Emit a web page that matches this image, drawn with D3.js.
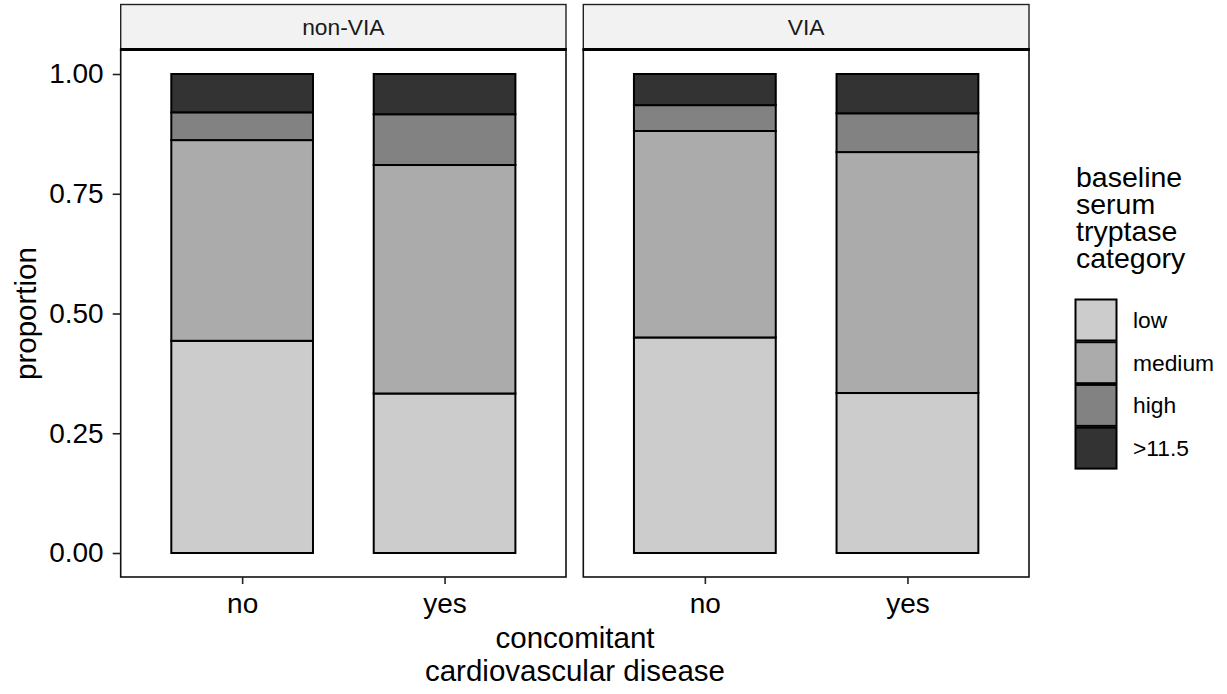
<!DOCTYPE html>
<html>
<head>
<meta charset="utf-8">
<script src="https://cdn.jsdelivr.net/npm/d3@7"></script>
<style>
  html, body { margin: 0; padding: 0; background: #fff; }
  svg { display: block; font-family: "Liberation Sans", Arial, sans-serif; }
</style>
</head>
<body>
<svg id="chart" width="1227" height="694"></svg>
<script>
// Facets, x categories and fill categories
const facets = ["non-VIA", "VIA"];
const cvdGroups = ["no", "yes"];
const tryptaseCats = ["low", "medium", "high", ">11.5"];
const yTicks = [0, 0.25, 0.5, 0.75, 1];

// Proportion of each tryptase category within each group (low, medium, high, >11.5)
const nonViaNo  = [0.443, 0.419, 0.058, 0.080];
const nonViaYes = [0.333, 0.477, 0.106, 0.084];
const viaNo     = [0.450, 0.431, 0.054, 0.065];
const viaYes    = [0.334, 0.503, 0.081, 0.082];

const facetData = {
  "non-VIA": { no: nonViaNo, yes: nonViaYes },
  "VIA":     { no: viaNo,    yes: viaYes }
};

const fillColors = ["#cccccc", "#ababab", "#828282", "#333333"];

const svg = d3.select("#chart");

const panelTop = 50, panelBottom = 577;
const panels = [
  { name: facets[0], x0: 120.7, x1: 566 },
  { name: facets[1], x0: 583.3, x1: 1029 }
];

const y = d3.scaleLinear().domain([0, 1]).range([553, 74]);
const color = d3.scaleOrdinal().domain(tryptaseCats).range(fillColors);

panels.forEach((p, pi) => {
  const x = d3.scalePoint().domain(cvdGroups).range([p.x0, p.x1]).padding(0.6);
  const barW = x.step() * 0.7;
  const g = svg.append("g");

  // strip
  g.append("rect")
    .attr("x", p.x0).attr("y", 4.5)
    .attr("width", p.x1 - p.x0).attr("height", panelTop - 4.5)
    .attr("fill", "#f2f2f2").attr("stroke", "#222").attr("stroke-width", 1.4);
  g.append("text")
    .attr("x", (p.x0 + p.x1) / 2).attr("y", 27)
    .attr("text-anchor", "middle").attr("dominant-baseline", "central")
    .attr("font-size", 22.8).attr("fill", "#1a1a1a")
    .text(p.name);

  // stacked bars
  cvdGroups.forEach(grp => {
    const vals = facetData[p.name][grp];
    let cum = 0;
    vals.forEach((v, i) => {
      const lo = cum, hi = cum + v;
      cum = hi;
      g.append("rect")
        .attr("x", x(grp) - barW / 2)
        .attr("y", y(hi))
        .attr("width", barW)
        .attr("height", y(lo) - y(hi))
        .attr("fill", color(tryptaseCats[i]))
        .attr("stroke", "#000").attr("stroke-width", 2);
    });
  });

  // panel border
  g.append("rect")
    .attr("x", p.x0).attr("y", panelTop)
    .attr("width", p.x1 - p.x0).attr("height", panelBottom - panelTop)
    .attr("fill", "none").attr("stroke", "#111").attr("stroke-width", 1.6);
  // thick line beneath the strip
  g.append("line")
    .attr("x1", p.x0 - 0.8).attr("x2", p.x1 + 0.8)
    .attr("y1", panelTop - 0.5).attr("y2", panelTop - 0.5)
    .attr("stroke", "#000").attr("stroke-width", 2.8);

  // x axis
  const xAxis = d3.axisBottom(x).tickSize(7).tickPadding(6);
  const xg = g.append("g").attr("transform", `translate(0,${panelBottom})`).call(xAxis);
  xg.select(".domain").remove();
  xg.selectAll(".tick line").attr("stroke", "#222").attr("stroke-width", 1.6);
  xg.selectAll(".tick text").attr("font-size", 28).attr("fill", "#000")
    .attr("font-family", "'Liberation Sans', Arial, sans-serif").attr("dy", "0.82em");

  // y axis on first panel only
  if (pi === 0) {
    const yAxis = d3.axisLeft(y).tickValues(yTicks).tickFormat(d3.format(".2f")).tickSize(8).tickPadding(9);
    const yg = g.append("g").attr("transform", `translate(${p.x0},0)`).call(yAxis);
    yg.select(".domain").remove();
    yg.selectAll(".tick line").attr("stroke", "#222").attr("stroke-width", 1.6);
    yg.selectAll(".tick text").attr("font-size", 28).attr("fill", "#000")
      .attr("font-family", "'Liberation Sans', Arial, sans-serif");
  }
});

// axis titles
svg.append("text")
  .attr("x", 575).attr("y", 648)
  .attr("text-anchor", "middle").attr("font-size", 29.5).attr("fill", "#000")
  .text("concomitant");
svg.append("text")
  .attr("x", 575).attr("y", 681)
  .attr("text-anchor", "middle").attr("font-size", 29.5).attr("fill", "#000")
  .text("cardiovascular disease");
svg.append("text")
  .attr("transform", `translate(36,313.5) rotate(-90)`)
  .attr("text-anchor", "middle").attr("font-size", 29.5).attr("fill", "#000")
  .text("proportion");

// legend
const legendTitle = ["baseline", "serum", "tryptase", "category"];
const lg = svg.append("g");
const titleText = lg.append("text")
  .attr("x", 1076).attr("y", 187)
  .attr("font-size", 28.5).attr("fill", "#000");
legendTitle.forEach((t, i) => {
  titleText.append("tspan")
    .attr("x", 1076).attr("y", 187 + i * 27)
    .text(t);
});
tryptaseCats.forEach((c, i) => {
  const ky = 299 + i * 42.7;
  lg.append("rect")
    .attr("x", 1075.5).attr("y", ky + 0.5)
    .attr("width", 41).attr("height", 41)
    .attr("fill", color(c)).attr("stroke", "#000").attr("stroke-width", 2);
  lg.append("text")
    .attr("x", 1133).attr("y", ky + 21)
    .attr("dominant-baseline", "central")
    .attr("font-size", 22.8).attr("fill", "#000")
    .text(c);
});
</script>
</body>
</html>
